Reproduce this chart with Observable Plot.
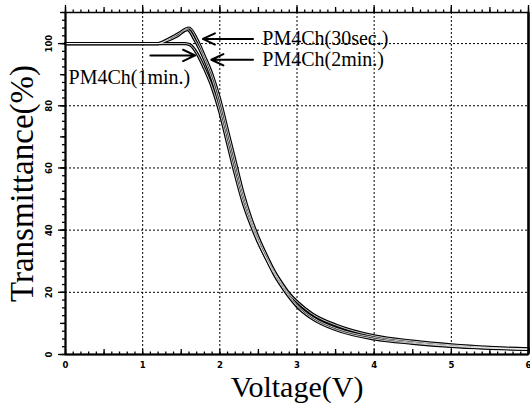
<!DOCTYPE html>
<html><head><meta charset="utf-8">
<script src="https://cdn.jsdelivr.net/npm/d3@7"></script>
<script src="https://cdn.jsdelivr.net/npm/@observablehq/plot@0.6"></script>
<style>body{margin:0;background:#fff}</style>
</head><body><div id="chart"></div>
<script>
const voltage30s = [0,1.2,1.3,1.45,1.6,1.7,1.8,1.9,2.0,2.1,2.2,2.3,2.4,2.5,2.6,2.7,2.8,2.9,3.0,3.2,3.5,4.0,4.5,5.0,5.5,6.0];
const trans30s   = [100,100,101,103,105,101.5,96,90,82,72,62,52,44,37.5,32,27,23,19.5,17,13,9.5,6,4.3,3.1,2.3,1.8];
const voltage1m = [0,1.55,1.62,1.7,1.8,1.9,2.0,2.1,2.2,2.3,2.4,2.5,2.6,2.7,2.8,2.9,3.0,3.2,3.5,4.0,4.5,5.0,5.5,6.0];
const trans1m   = [100,100,99.5,97,92,86,78,68,58,49,42,36,31,26,22,18.5,15.5,11.5,8,5,3.6,2.6,2,1.6];
const voltage2m = [0,1.2,1.3,1.45,1.58,1.68,1.8,1.9,2.0,2.1,2.2,2.3,2.4,2.5,2.6,2.7,2.8,2.9,3.0,3.2,3.5,4.0,4.5,5.0,5.5,6.0];
const trans2m   = [100,100,100.8,102.5,104.5,101,95,88.5,80,70,60,50.5,43,36.5,31,26.5,22.5,19,16,12,8.5,5.5,3.9,2.8,2.1,1.7];
const labels = ["PM4Ch(30sec.)","PM4Ch(1min.)","PM4Ch(2min.)"];
const xTicks = [0,1,2,3,4,5,6];
const yTicks = [0,20,40,60,80,100];

const series = [
  {name: labels[0], xs: voltage30s, ys: trans30s},
  {name: labels[1], xs: voltage1m, ys: trans1m},
  {name: labels[2], xs: voltage2m, ys: trans2m}
];
const data = series.flatMap(s => s.xs.map((x,i) => ({series: s.name, x, y: s.ys[i]})));

const arrows = [
  {x1: 2.43, y1: 101.5, x2: 1.78, y2: 101.5},
  {x1: 2.43, y1: 94.8, x2: 1.89, y2: 94.8},
  {x1: 1.10, y1: 96.2, x2: 1.68, y2: 96.2}
];
const notes = [
  {x: 2.55, y: 101.5, text: labels[0]},
  {x: 2.55, y: 94.8, text: labels[2]},
  {x: 0.04, y: 89.2, text: labels[1]}
];
const minorX = d3.range(0, 61, 1).map(v => v / 10);
const midX = d3.range(0, 13, 1).map(v => v / 2);
const minorY = d3.range(0, 45, 1).map(v => v * 2.5);
const midY = d3.range(0, 12, 1).map(v => v * 10);

// pixel → data conversions for tick lengths
const pxX = 1 / 77.3, pxY = 110 / 342;

const plot = Plot.plot({
  width: 530, height: 414,
  marginLeft: 65, marginRight: 2, marginTop: 12, marginBottom: 60,
  style: {fontFamily: "DejaVu Sans", background: "#fff"},
  x: {type: "linear", domain: [0, 6], label: null, axis: null},
  y: {type: "linear", domain: [0, 110], label: null, axis: null},
  marks: [
    Plot.gridX(xTicks.slice(1,6), {stroke: "#000", strokeOpacity: 1, strokeDasharray: "2,2", strokeWidth: 1}),
    Plot.gridY(yTicks.slice(1), {stroke: "#000", strokeOpacity: 1, strokeDasharray: "2,2", strokeWidth: 1}),
    Plot.frame({stroke: "#000", strokeWidth: 1.5}),
    // curves
    Plot.line(data, {x: "x", y: "y", z: "series", stroke: "#000", strokeWidth: 3.2, curve: "monotone-x"}),
    Plot.line(data, {x: "x", y: "y", z: "series", stroke: "#fff", strokeWidth: 0.8, curve: "monotone-x"}),
    Plot.arrow(arrows, {x1: "x1", y1: "y1", x2: "x2", y2: "y2", stroke: "#000", strokeWidth: 2, headLength: 10, headAngle: 50}),
    Plot.text(notes, {x: "x", y: "y", text: "text", textAnchor: "start", fontSize: 20, fontFamily: "Liberation Serif", fill: "#000"}),
    Plot.text(["Transmittance(%)"], {frameAnchor: "left", textAnchor: "middle", dx: -43, rotate: -90, fontSize: 33, fontFamily: "Liberation Serif", fill: "#000"}),
    Plot.text(["Voltage(V)"], {frameAnchor: "bottom", textAnchor: "middle", dy: 42, fontSize: 30, fontFamily: "Liberation Serif", fill: "#000"}),
    // axis lines
    Plot.ruleY([0], {stroke: "#000", strokeWidth: 2}),
    Plot.ruleX([0], {stroke: "#000", strokeWidth: 2}),
    Plot.ruleX([6], {stroke: "#000", strokeWidth: 2.5}),
    // bottom ticks (inward)
    Plot.ruleX(minorX, {x: d => d, y1: 0, y2: 2.5 * pxY, stroke: "#000", strokeWidth: 1.3}),
    Plot.ruleX(midX, {x: d => d, y1: 0, y2: 5 * pxY, stroke: "#000", strokeWidth: 1.3}),
    // top ticks (outward)
    Plot.ruleX(minorX, {x: d => d, y1: 110, y2: 110 + 2.5 * pxY, stroke: "#000", strokeWidth: 1.3}),
    Plot.ruleX(midX, {x: d => d, y1: 110, y2: 110 + 5 * pxY, stroke: "#000", strokeWidth: 1.3}),
    Plot.ruleX(xTicks, {x: d => d, y1: 110, y2: 110 + 7 * pxY, stroke: "#000", strokeWidth: 1.3}),
    // left ticks (outward)
    Plot.ruleY(minorY, {y: d => d, x1: 0, x2: -3 * pxX, stroke: "#000", strokeWidth: 1.3}),
    Plot.ruleY(midY, {y: d => d, x1: 0, x2: -5 * pxX, stroke: "#000", strokeWidth: 1.3}),
    Plot.ruleY(yTicks, {y: d => d, x1: 0, x2: -7 * pxX, stroke: "#000", strokeWidth: 1.3}),
    // tick labels
    Plot.text(xTicks, {x: d => d, y: 0, dy: 11, text: d => String(d), fontSize: 8.5, fontWeight: "bold", fill: "#000"}),
    Plot.text(yTicks, {x: 0, y: d => d, dx: -16, rotate: -90, text: d => String(d), fontSize: 8.5, fontWeight: "bold", fill: "#000"})
  ]
});
document.getElementById("chart").append(plot);
</script>
</body></html>
